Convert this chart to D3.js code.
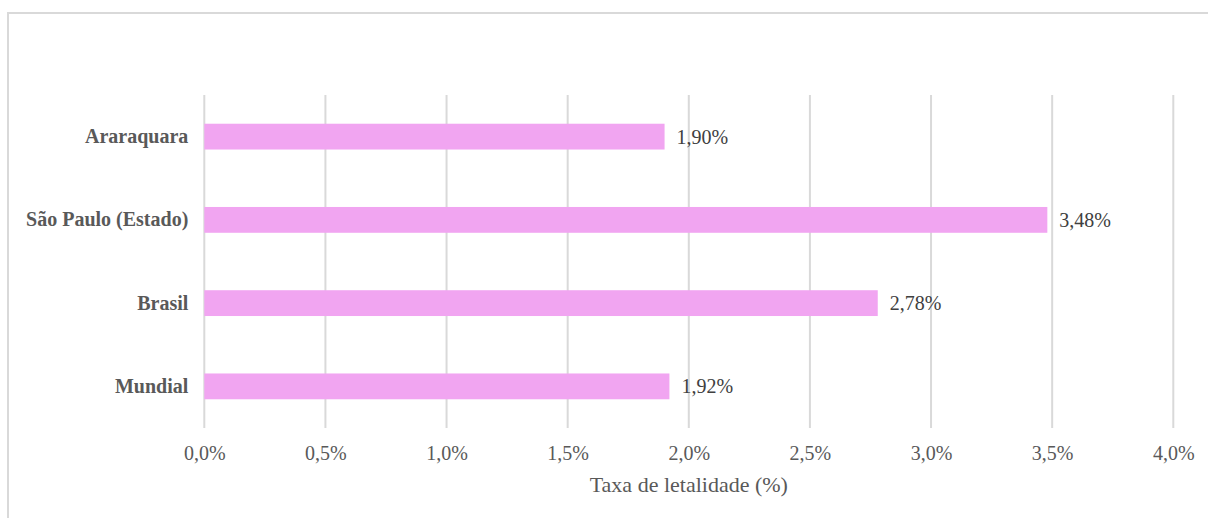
<!DOCTYPE html>
<html>
<head>
<meta charset="utf-8">
<script src="https://cdn.jsdelivr.net/npm/d3@7"></script>
<style>
  html, body { margin: 0; padding: 0; background: #fff; overflow: hidden; }
  svg { display: block; font-family: "Liberation Serif", "Times New Roman", serif; }
</style>
</head>
<body>
<svg id="chart" width="1208" height="518"></svg>
<script>
// Case fatality rate (%) by region
const categories = ["Araraquara", "São Paulo (Estado)", "Brasil", "Mundial"];
const values = [1.90, 3.48, 2.78, 1.92];
const tickValues = [0, 0.5, 1.0, 1.5, 2.0, 2.5, 3.0, 3.5, 4.0];
const axisTitle = "Taxa de letalidade (%)";

const svg = d3.select("#chart");
const W = 1208, H = 518;

// outer chart frame
svg.append("rect")
  .attr("x", 8).attr("y", 13)
  .attr("width", W).attr("height", H)
  .attr("fill", "#fff")
  .attr("stroke", "#d9d9d9")
  .attr("stroke-width", 2);

const plot = { left: 204.3, right: 1173.3, top: 95, bottom: 428 };

const x = d3.scaleLinear().domain([0, 4]).range([plot.left, plot.right]);
const y = d3.scaleBand().domain(categories).range([plot.top, plot.bottom]).paddingInner(0.69).paddingOuter(0.345);

const fmt = v => d3.format(".1f")(v).replace(".", ",") + "%";
const fmt2 = v => d3.format(".2f")(v).replace(".", ",") + "%";

// vertical gridlines
svg.append("g")
  .selectAll("line")
  .data(tickValues)
  .join("line")
  .attr("x1", d => x(d)).attr("x2", d => x(d))
  .attr("y1", plot.top).attr("y2", plot.bottom)
  .attr("stroke", "#d9d9d9")
  .attr("stroke-width", 2);

// x axis tick labels
const xAxis = d3.axisBottom(x).tickValues(tickValues).tickFormat(fmt).tickSize(0).tickPadding(0);
const gx = svg.append("g").attr("transform", `translate(0, ${plot.bottom})`).call(xAxis);
gx.select(".domain").remove();
gx.selectAll("text")
  .attr("y", 0)
  .attr("dy", "32px")
  .attr("font-family", "Liberation Serif, serif")
  .attr("font-size", 20)
  .attr("fill", "#595959");

// y axis category labels
const yAxis = d3.axisLeft(y).tickSize(0).tickPadding(16);
const gy = svg.append("g").attr("transform", `translate(${plot.left}, 0)`).call(yAxis);
gy.select(".domain").remove();
gy.selectAll("text")
  .attr("font-family", "Liberation Serif, serif")
  .attr("font-size", 20)
  .attr("font-weight", "bold")
  .attr("fill", "#595959");

// bars
svg.append("g")
  .selectAll("rect")
  .data(categories)
  .join("rect")
  .attr("x", x(0))
  .attr("y", d => y(d))
  .attr("width", (d, i) => x(values[i]) - x(0))
  .attr("height", y.bandwidth())
  .attr("fill", "#f1a5f1");

// value labels
svg.append("g")
  .selectAll("text")
  .data(categories)
  .join("text")
  .attr("x", (d, i) => x(values[i]) + 12)
  .attr("y", d => y(d) + y.bandwidth() / 2)
  .attr("dy", "0.35em")
  .attr("font-size", 20)
  .attr("fill", "#404040")
  .text((d, i) => fmt2(values[i]));

// axis title
svg.append("text")
  .attr("x", (plot.left + plot.right) / 2)
  .attr("y", 492)
  .attr("text-anchor", "middle")
  .attr("font-size", 22)
  .attr("fill", "#595959")
  .text(axisTitle);
</script>
</body>
</html>
